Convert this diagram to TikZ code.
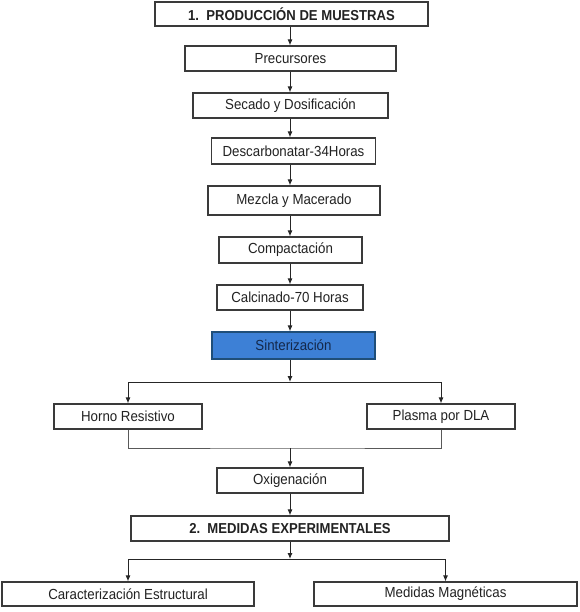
\documentclass[tikz,border=0pt]{standalone}
\usepackage{fontspec}
\setmainfont[FakeStretch=0.91]{Liberation Sans}
\usetikzlibrary{arrows.meta}
\definecolor{boxline}{HTML}{3A3A3A}
\definecolor{txt}{HTML}{222222}
\definecolor{sinfill}{HTML}{3D80D6}
\definecolor{sinline}{HTML}{1F4E79}
\definecolor{sintxt}{HTML}{14284A}
\begin{document}
\begin{tikzpicture}[x=1pt,y=-1pt,
  every node/.style={font=\fontsize{14.6}{16}\selectfont, text=txt},
  box/.style={draw=boxline, line width=1.1pt, fill=white, inner sep=0pt},
  titlebox/.style={box, font=\fontsize{14.4}{16}\selectfont\bfseries},
  bluebox/.style={box, draw=sinline, fill=sinfill, text=sintxt},
  arr/.style={draw=black!85, line width=1pt, -{Latex[length=6pt,width=5pt]}},
  ln/.style={draw=black!65, line width=0.9pt}]
\useasboundingbox (0,0) rectangle (579,612);
\coordinate (trunk) at (290,0);
\node[titlebox, minimum width=273pt, minimum height=24pt] (t1) at (291.5,14) {1.\ \ PRODUCCIÓN DE MUESTRAS};
\node[box, minimum width=211pt, minimum height=25pt] (pre) at (290.5,58.5) {Precursores};
\node[box, minimum width=195pt, minimum height=25pt] (sec) at (290.5,105.5) {Secado y Dosificación};
\node[box, minimum width=164pt, minimum height=26pt] (des) at (293.5,151) {Descarbonatar-34Horas};
\node[box, minimum width=172pt, minimum height=29pt] (mez) at (294,200.5) {Mezcla y Macerado};
\node[box, minimum width=143pt, minimum height=26pt] (com) at (290.5,250) {Compactación};
\node[box, minimum width=146pt, minimum height=25pt] (cal) at (290,297.5) {Calcinado-70 Horas};
\node[bluebox, minimum width=163pt, minimum height=27pt] (sin) at (293.5,345.5) {Sinterización};
\node[box, minimum width=148pt, minimum height=25pt] (hor) at (128,416.5) {Horno Resistivo};
\node[box, minimum width=148pt, minimum height=25pt] (pla) at (441,416.5) {Plasma por DLA};
\node[box, minimum width=146pt, minimum height=25pt] (oxi) at (290,480.5) {Oxigenación};
\node[titlebox, minimum width=318pt, minimum height=25pt] (med) at (290,528.5) {2.\ \ MEDIDAS EXPERIMENTALES};
\node[box, minimum width=252pt, minimum height=24pt] (car) at (128,594) {Caracterización Estructural};
\node[box, minimum width=263pt, minimum height=24pt] (mag) at (445.5,594) {Medidas Magnéticas};
\coordinate (b1) at (290,382);
\coordinate (b2) at (290,448);
\coordinate (b3) at (290,559);
% main trunk
\draw[arr] (t1.south -| trunk) -- (pre.north -| trunk);
\draw[arr] (pre.south -| trunk) -- (sec.north -| trunk);
\draw[arr] (sec.south -| trunk) -- (des.north -| trunk);
\draw[arr] (des.south -| trunk) -- (mez.north -| trunk);
\draw[arr] (mez.south -| trunk) -- (com.north -| trunk);
\draw[arr] (com.south -| trunk) -- (cal.north -| trunk);
\draw[arr] (cal.south -| trunk) -- (sin.north -| trunk);
% sinter branch
\draw[arr] (sin.south -| b1) -- (b1);
\draw[arr] (b1) -| (hor.north);
\draw[arr] (b1) -| (pla.north);
% merge
\draw[ln] (hor.south) |- (b2) -| (pla.south);
\draw[arr] (b2) -- (oxi.north -| b2);
\draw[arr] (oxi.south -| trunk) -- (med.north -| trunk);
% measures branch
\draw[arr] (med.south -| b3) -- (b3);
\draw[arr] (b3) -| (car.north);
\draw[arr] (b3) -| (mag.north);
\end{tikzpicture}
\end{document}
